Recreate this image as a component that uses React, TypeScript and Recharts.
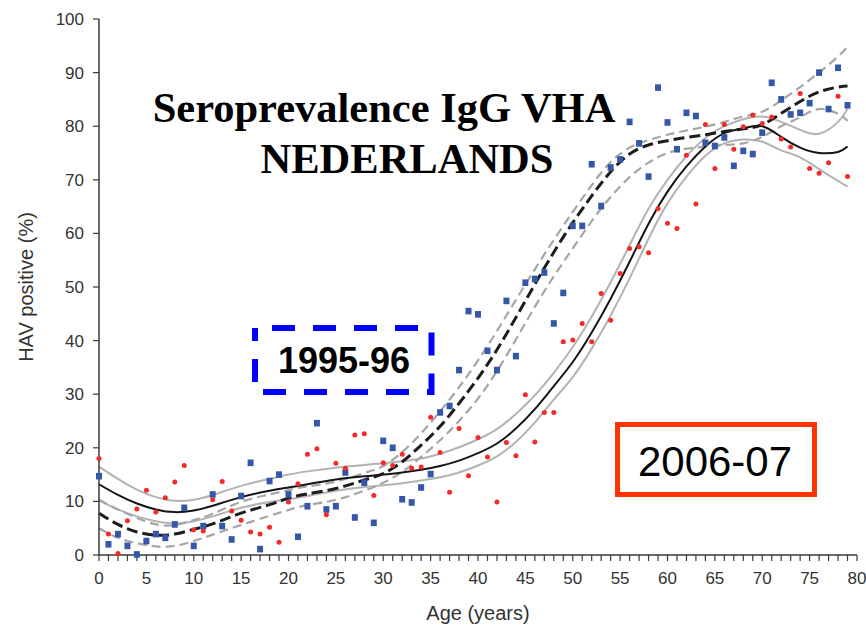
import { ComposedChart, Line, Scatter, XAxis, YAxis } from "recharts"

// raw prevalence per year of age (0..79)
const blue1995 = [
  14.7, 2.0, 3.9, 1.7, 0.1, 2.6, 3.9, 3.2, 5.7, 8.8,
  1.7, 5.4, 11.3, 5.4, 2.9, 11.0, 17.2, 1.1, 13.8, 15.0,
  11.3, 3.4, 9.1, 24.6, 8.5, 9.1, 15.4, 7.0, 13.5, 6.0,
  21.3, 20.0, 10.4, 9.8, 12.6, 15.1, 26.6, 27.8, 34.5, 45.5,
  44.9, 38.1, 34.5, 47.4, 37.1, 50.8, 51.5, 52.7, 43.2, 48.9,
  61.4, 61.4, 72.9, 65.1, 72.3, 73.8, 80.8, 76.8, 70.6, 87.2,
  80.7, 75.7, 82.5, 81.9, 76.9, 76.3, 77.9, 72.6, 75.4, 74.8,
  78.8, 88.1, 85.0, 82.2, 82.5, 84.3, 90.0, 83.2, 90.9, 83.9,
]

const red2006 = [
  18.0, 3.9, 0.3, 6.4, 8.6, 12.1, 8.0, 10.7, 13.6, 16.7,
  4.7, 4.5, 10.3, 13.7, 8.2, 6.5, 4.3, 3.9, 5.2, 2.4,
  9.9, 13.3, 18.8, 19.8, 7.5, 17.1, 16.2, 22.4, 22.6, 11.1,
  17.2, 16.7, 18.8, 16.2, 16.4, 25.7, 19.1, 11.7, 23.6, 14.8,
  21.9, 18.3, 9.9, 21.0, 18.5, 29.9, 21.1, 26.6, 26.6, 39.8,
  40.1, 43.2, 39.8, 48.8, 43.8, 52.5, 57.2, 57.5, 56.4, 64.6,
  61.9, 60.9, 74.6, 65.5, 80.3, 72.1, 80.3, 75.7, 79.9, 82.1,
  80.5, 81.7, 77.6, 76.1, 86.1, 72.1, 71.2, 73.2, 85.6, 70.6,
]

// fitted curves, read at these ages
const fitAges = [
  0, 2, 4, 6, 8, 10, 12, 15, 18, 20, 22, 25, 28, 30, 32, 34, 36, 38, 40, 42,
  44, 46, 48, 50, 52, 54, 56, 58, 60, 62, 64, 66, 68, 70, 72, 74, 76, 78, 79,
]

const fit1995 = [
  7.8, 5.7, 4.3, 3.7, 3.9, 4.8, 5.8, 7.8, 9.4, 10.6, 11.4, 12.4, 14.0, 15.2, 17.4, 20.5, 24.0, 28.3, 33.0, 38.3,
  44.3, 50.5, 56.5, 62.0, 67.0, 71.5, 74.8, 76.5, 77.3, 77.9, 78.4, 79.0, 79.5, 80.3, 82.4, 84.6, 86.4, 87.3, 87.5,
]
const upper1995 = [
  10.3, 8.5, 6.9, 5.7, 5.6, 6.5, 7.7, 9.9, 11.3, 12.1, 12.8, 13.7, 15.3, 16.6, 19.2, 22.7, 26.8, 31.3, 36.3, 41.8,
  47.6, 53.3, 58.8, 64.0, 69.0, 73.3, 76.0, 77.4, 78.4, 79.2, 79.9, 80.8, 81.8, 82.7, 84.8, 87.3, 90.0, 93.0, 94.8,
]
const lower1995 = [
  5.0, 3.2, 2.2, 1.6, 1.7, 2.6, 3.8, 5.6, 7.3, 8.4, 9.3, 10.3, 12.0, 13.5, 15.5, 18.3, 21.4, 25.0, 29.2, 34.3,
  40.2, 46.3, 52.0, 57.2, 62.3, 66.8, 70.5, 73.2, 75.0, 75.8, 76.2, 76.5, 76.8, 78.0, 80.0, 81.7, 83.2, 82.3, 81.0,
]

const fit2006 = [
  13.2, 11.2, 9.6, 8.5, 8.0, 8.3, 9.2, 10.8, 12.0, 12.6, 13.2, 14.1, 14.7, 15.0, 15.4, 15.9, 16.6, 17.6, 19.0, 20.8,
  23.6, 27.2, 31.5, 36.0, 41.5, 47.8, 54.7, 61.8, 67.8, 72.5, 76.2, 78.7, 79.6, 80.0, 78.0, 76.0, 75.0, 75.2, 76.2,
]
const upper2006 = [
  16.5, 14.2, 12.2, 10.8, 10.1, 10.3, 11.2, 12.9, 14.2, 15.0, 15.6, 16.3, 16.8, 17.1, 17.5, 18.0, 18.9, 20.1, 21.6, 23.5,
  26.3, 29.8, 34.0, 38.8, 44.5, 50.9, 57.8, 64.6, 70.0, 74.4, 77.8, 80.0, 81.3, 81.8, 80.8, 79.3, 78.6, 80.8, 83.2,
]
const lower2006 = [
  10.2, 8.5, 7.2, 6.3, 5.9, 6.3, 7.2, 8.8, 9.9, 10.4, 11.0, 12.0, 12.7, 13.0, 13.4, 13.9, 14.5, 15.4, 16.7, 18.4,
  21.1, 24.7, 29.0, 33.2, 38.5, 44.7, 51.6, 59.0, 65.6, 70.6, 74.5, 76.8, 77.5, 77.1, 75.5, 74.2, 72.0, 69.8, 68.7,
]

const xTicks = Array.from({ length: 81 }, (_, i) => i)
const yTicks = [0, 10, 20, 30, 40, 50, 60, 70, 80, 90, 100]

const byAge = (vals: number[]) => vals.map((v, age) => ({ age, v }))
const byFitAge = (vals: number[]) => fitAges.map((age, i) => ({ age, v: vals[i] }))

const sans = "'Liberation Sans', Arial, Helvetica, sans-serif"
const serif = "'Liberation Serif', 'Times New Roman', serif"
const axisColor = "#3a3a3a"

const BlueSquare = (props: any) => (
  <rect x={props.cx - 3} y={props.cy - 3.3} width={6} height={6.6} fill="#3557a8" />
)
const RedDot = (props: any) => <circle cx={props.cx} cy={props.cy} r={2.5} fill="#f22a2a" />

export default function App() {
  return (
    <div style={{ position: "absolute", left: 0, top: 0, width: 866, height: 629, background: "#fff" }}>
      <ComposedChart width={866} height={629} margin={{ top: 19, right: 9, left: 0, bottom: 0 }}>
        <XAxis
          type="number"
          dataKey="age"
          domain={[0, 80]}
          ticks={xTicks}
          interval={0}
          height={74}
          tickSize={6}
          tickMargin={11}
          tickFormatter={(v) => (v % 5 === 0 ? String(v) : "")}
          axisLine={{ stroke: axisColor, strokeWidth: 1.5 }}
          tickLine={{ stroke: axisColor, strokeWidth: 1.2 }}
          tick={{ fill: "#333", fontSize: 17, fontFamily: sans }}
          label={{ value: "Age (years)", position: "insideBottom", offset: 9, fill: "#333", fontSize: 20, fontFamily: sans }}
        />
        <YAxis
          type="number"
          dataKey="v"
          domain={[0, 100]}
          ticks={yTicks}
          width={99}
          tickSize={6}
          tickMargin={9}
          axisLine={{ stroke: axisColor, strokeWidth: 1.5 }}
          tickLine={{ stroke: axisColor, strokeWidth: 1.2 }}
          tick={{ fill: "#333", fontSize: 17, fontFamily: sans }}
          label={{
            value: "HAV positive (%)",
            angle: -90,
            position: "insideLeft",
            offset: 26,
            fill: "#333",
            fontSize: 20,
            fontFamily: sans,
            style: { textAnchor: "middle" },
          }}
        />

        <Line data={byFitAge(upper2006)} dataKey="v" type="natural" stroke="#b3b3b3" strokeWidth={2} dot={false} activeDot={false} isAnimationActive={false} />
        <Line data={byFitAge(lower2006)} dataKey="v" type="natural" stroke="#b3b3b3" strokeWidth={2} dot={false} activeDot={false} isAnimationActive={false} />
        <Line data={byFitAge(upper1995)} dataKey="v" type="natural" stroke="#a6a6a6" strokeWidth={2.2} strokeDasharray="9 5" dot={false} activeDot={false} isAnimationActive={false} />
        <Line data={byFitAge(lower1995)} dataKey="v" type="natural" stroke="#a6a6a6" strokeWidth={2.2} strokeDasharray="9 5" dot={false} activeDot={false} isAnimationActive={false} />
        <Line data={byFitAge(fit2006)} dataKey="v" type="natural" stroke="#151515" strokeWidth={2} dot={false} activeDot={false} isAnimationActive={false} />
        <Line data={byFitAge(fit1995)} dataKey="v" type="natural" stroke="#1c1c1c" strokeWidth={3} strokeDasharray="11 5" dot={false} activeDot={false} isAnimationActive={false} />

        <Scatter data={byAge(blue1995)} dataKey="v" shape={BlueSquare} isAnimationActive={false} />
        <Scatter data={byAge(red2006)} dataKey="v" shape={RedDot} isAnimationActive={false} />
      </ComposedChart>

      <svg width={866} height={629} style={{ position: "absolute", left: 0, top: 0, pointerEvents: "none" }}>
        <text x={384} y={122} textAnchor="middle" fontFamily={serif} fontWeight="bold" fontSize={42.5} fill="#000">
          Seroprevalence IgG VHA
        </text>
        <text x={407} y={173} textAnchor="middle" fontFamily={serif} fontWeight="bold" fontSize={42.5} fill="#000">
          NEDERLANDS
        </text>

        <path
          d="M255,328 H431.5 V392 H255 Z"
          fill="none"
          stroke="#0000ff"
          strokeWidth={6}
          strokeDasharray="23 18"
          strokeDashoffset={24}
        />
        <text x={344} y={373} textAnchor="middle" fontFamily={sans} fontWeight="bold" fontSize={36} fill="#000">
          1995-96
        </text>

        <rect x={617.5} y={424.5} width={197} height={70} fill="none" stroke="#ff3300" strokeWidth={5} />
        <text x={715} y={476} textAnchor="middle" fontFamily={sans} fontSize={42} fill="#000">
          2006-07
        </text>
      </svg>
    </div>
  )
}
